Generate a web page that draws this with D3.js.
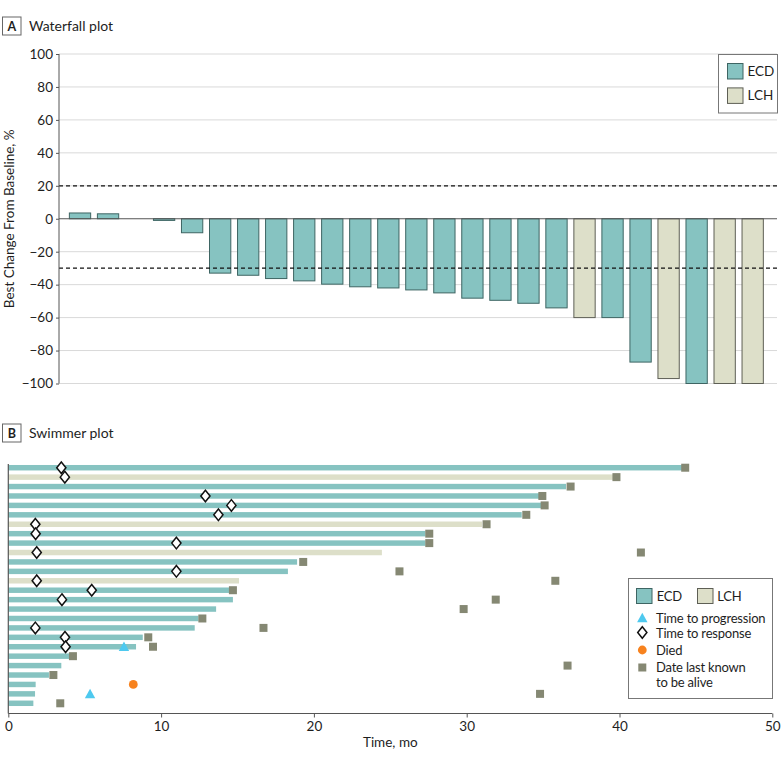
<!DOCTYPE html>
<html>
<head>
<meta charset="utf-8">
<script src="https://cdn.jsdelivr.net/npm/d3@7/dist/d3.min.js"></script>
<style>
  html, body { margin: 0; padding: 0; background: #fff; }
  svg { display: block; font-family: Lato, "Open Sans", sans-serif; }
</style>
</head>
<body>
<svg id="chart" width="783" height="758"></svg>
<script>
// ---------- Waterfall data ----------
const wfPatients = d3.range(1, 26).map(String);
const wfValues = [3.5, 3, null, -1, -8.5, -33, -34.3, -36.3, -37.7, -39.7, -41.3, -42, -43.2, -45, -48.2, -49.5, -51.3, -54.1, -60, -60, -87, -97, -100, -100, -100];
const wfGroups = ["ECD","ECD","ECD","ECD","ECD","ECD","ECD","ECD","ECD","ECD","ECD","ECD","ECD","ECD","ECD","ECD","ECD","ECD","LCH","ECD","ECD","LCH","ECD","LCH","LCH"];
const wfTicks = [-100, -80, -60, -40, -20, 0, 20, 40, 60, 80, 100];
const wfThresholds = [20, -30];

// ---------- Swimmer data ----------
const swRows = d3.range(1, 27).map(String);
const swGroups = ["ECD","LCH","ECD","ECD","ECD","ECD","LCH","ECD","ECD","LCH","ECD","ECD","LCH","ECD","ECD","ECD","ECD","ECD","ECD","ECD","ECD","ECD","ECD","ECD","ECD","ECD"];
const swDuration = [44.1, 39.6, 36.5, 34.75, 34.9, 33.6, 31.0, 27.3, 27.3, 24.45, 18.9, 18.3, 15.1, 14.6, 14.7, 13.6, 12.45, 12.2, 8.8, 8.36, 4.0, 3.47, 2.66, 1.79, 1.75, 1.64];
const swResponse = [3.47, 3.7, null, 12.9, 14.6, 13.75, 1.77, 1.79, 11.0, 1.86, null, 11.0, 1.86, 5.46, 3.51, null, null, 1.77, 3.71, 3.75, null, null, null, null, null, null];
const swProgression = [null,null,null,null,null,null,null,null,null,null,null,null,null,null,null,null,null,null,null, 7.57, null,null,null,null, 5.35, null];
const swDied = [null,null,null,null,null,null,null,null,null,null,null,null,null,null,null,null,null,null,null,null,null,null,null, 8.18, null, null];
const swLastAlive = [44.3, 39.8, 36.8, 34.95, 35.1, 33.9, 31.3, 27.55, 27.55, 41.4, 19.3, 25.6, 35.8, 14.7, 31.9, 29.8, 12.7, 16.7, 9.16, 9.47, 4.23, 36.6, 2.95, null, 34.8, 3.4];
const swTicks = [0, 10, 20, 30, 40, 50];

// ---------- Styles ----------
const fillC = { ECD: "#86c3c1", LCH: "#dddfc9" };
const strokeC = { ECD: "#3e6563", LCH: "#5e5f55" };
const squareC = "#858873";
const triC = "#4ec9ef";
const diedC = "#f7821e";
const axisC = "#555";
const gridC = "#d9d9d9";
const textC = "#1e1e1e";

const svg = d3.select("#chart");

// ---------- Panel labels ----------
function panelLabel(letter, title, yTop) {
  const g = svg.append("g");
  g.append("rect").attr("x", 2.5).attr("y", yTop + 0.5).attr("width", 18.5).attr("height", 18)
    .attr("fill", "#fff").attr("stroke", "#666").attr("stroke-width", 1);
  g.append("text").attr("x", 11.75).attr("y", yTop + 14).attr("text-anchor", "middle")
    .attr("font-size", 12.5).attr("font-weight", "bold").attr("fill", textC).text(letter);
  g.append("text").attr("x", 29).attr("y", yTop + 14).attr("font-size", 14).attr("fill", textC).text(title);
}
panelLabel("A", "Waterfall plot", 16.5);
panelLabel("B", "Swimmer plot", 423.5);

// ---------- Waterfall ----------
const wfX = d3.scaleBand().domain(wfPatients).range([66, 766.7]).paddingInner(0.24).paddingOuter(0.12);
const wfY = d3.scaleLinear().domain([-100, 100]).range([383.5, 54]);
const wfLeft = 59, wfRight = 777;

const wf = svg.append("g");
wf.selectAll("line.grid").data(wfTicks.filter(t => t !== 0)).join("line")
  .attr("x1", wfLeft).attr("x2", wfRight)
  .attr("y1", d => wfY(d)).attr("y2", d => wfY(d))
  .attr("stroke", gridC).attr("stroke-width", 1);

const wfData = wfPatients.map((p, i) => ({ p, v: wfValues[i], g: wfGroups[i] })).filter(d => d.v !== null);
wf.selectAll("rect.bar").data(wfData).join("rect")
  .attr("x", d => wfX(d.p))
  .attr("width", wfX.bandwidth())
  .attr("y", d => wfY(Math.max(0, d.v)))
  .attr("height", d => Math.abs(wfY(d.v) - wfY(0)))
  .attr("fill", d => fillC[d.g])
  .attr("stroke", d => strokeC[d.g]).attr("stroke-width", 1);

wf.append("line").attr("x1", wfLeft).attr("x2", wfRight)
  .attr("y1", wfY(0)).attr("y2", wfY(0)).attr("stroke", "#555").attr("stroke-width", 1);

wf.selectAll("line.thr").data(wfThresholds).join("line")
  .attr("x1", wfLeft).attr("x2", wfRight)
  .attr("y1", d => wfY(d)).attr("y2", d => wfY(d))
  .attr("stroke", "#111").attr("stroke-width", 1.2).attr("stroke-dasharray", "4,3");

const wfAxis = wf.append("g").attr("transform", `translate(${wfLeft},0)`)
  .call(d3.axisLeft(wfY).tickValues(wfTicks).tickSize(3).tickPadding(3).tickFormat(d => d < 0 ? "\u2212" + Math.abs(d) : d));
wfAxis.select(".domain").attr("stroke", axisC).attr("d", `M0,${wfY(100)}V${wfY(-100)}`);
wfAxis.selectAll(".tick line").attr("stroke", axisC);
wfAxis.selectAll(".tick text").attr("font-size", 13.5).attr("fill", textC).attr("font-family", "Lato, sans-serif");

svg.append("text").attr("transform", `translate(14,${(wfY(100) + wfY(-100)) / 2}) rotate(-90)`)
  .attr("text-anchor", "middle").attr("font-size", 13.5).attr("fill", textC)
  .text("Best Change From Baseline, %");

const lgA = svg.append("g");
lgA.append("rect").attr("x", 718.5).attr("y", 54.5).attr("width", 59).attr("height", 58.5)
  .attr("fill", "#fff").attr("stroke", "#777");
["ECD", "LCH"].forEach((k, i) => {
  lgA.append("rect").attr("x", 727.5).attr("y", 63.5 + i * 24.4).attr("width", 15.5).attr("height", 15.5)
    .attr("fill", fillC[k]).attr("stroke", strokeC[k]);
  lgA.append("text").attr("x", 747.5).attr("y", 76 + i * 24.4).attr("font-size", 13.5).attr("fill", textC).text(k);
});

// ---------- Swimmer ----------
const swX = d3.scaleLinear().domain([0, 50]).range([8.3, 772.3]);
const swY = d3.scaleBand().domain(swRows).range([463, 708]).paddingInner(0.42).paddingOuter(0.21);
const swAxisY = 713.5;
const cy = r => swY(r) + swY.bandwidth() / 2;

const sw = svg.append("g");
const swData = swRows.map((r, i) => ({ r, g: swGroups[i], dur: swDuration[i], resp: swResponse[i], prog: swProgression[i], died: swDied[i], last: swLastAlive[i] }));

sw.selectAll("rect.sbar").data(swData).join("rect")
  .attr("x", swX(0)).attr("y", d => swY(d.r))
  .attr("width", d => swX(d.dur) - swX(0)).attr("height", swY.bandwidth())
  .attr("fill", d => fillC[d.g]);

const sq = 8;
sw.selectAll("rect.sq").data(swData.filter(d => d.last !== null)).join("rect")
  .attr("x", d => swX(d.last) - sq / 2).attr("y", d => cy(d.r) - sq / 2)
  .attr("width", sq).attr("height", sq).attr("fill", squareC);

const diamond = "M0,-5.8L4.6,0L0,5.8L-4.6,0Z";
sw.selectAll("path.dia").data(swData.filter(d => d.resp !== null)).join("path")
  .attr("d", diamond)
  .attr("transform", d => `translate(${swX(d.resp)},${cy(d.r)})`)
  .attr("fill", "#fff").attr("stroke", "#111").attr("stroke-width", 1.5);

const tri = "M0,-5.2L5.2,4.3L-5.2,4.3Z";
sw.selectAll("path.tri").data(swData.filter(d => d.prog !== null)).join("path")
  .attr("d", tri)
  .attr("transform", d => `translate(${swX(d.prog)},${cy(d.r)})`)
  .attr("fill", triC);

sw.selectAll("circle.died").data(swData.filter(d => d.died !== null)).join("circle")
  .attr("cx", d => swX(d.died)).attr("cy", d => cy(d.r)).attr("r", 4.4)
  .attr("fill", diedC);

sw.append("line").attr("x1", swX(0)).attr("x2", swX(0)).attr("y1", 464).attr("y2", swAxisY)
  .attr("stroke", axisC).attr("stroke-width", 1.2);
const swAxis = sw.append("g").attr("transform", `translate(0,${swAxisY})`)
  .call(d3.axisBottom(swX).tickValues(swTicks).tickSize(4).tickPadding(4));
swAxis.select(".domain").attr("stroke", axisC).attr("d", `M${swX(0)},0H${swX(50)}`);
swAxis.selectAll(".tick line").attr("stroke", axisC);
swAxis.selectAll(".tick text").attr("font-size", 13.5).attr("fill", textC).attr("font-family", "Lato, sans-serif");

svg.append("text").attr("x", (swX(0) + swX(50)) / 2).attr("y", 746.5).attr("text-anchor", "middle")
  .attr("font-size", 13.5).attr("fill", textC).text("Time, mo");

const lgB = svg.append("g").attr("font-size", 13).attr("letter-spacing", -0.2);
lgB.append("rect").attr("x", 628.5).attr("y", 578.5).attr("width", 144).attr("height", 120)
  .attr("fill", "#fff").attr("stroke", "#777");
[["ECD", 636.5, 656.7], ["LCH", 697.5, 717.3]].forEach(([k, sx, tx]) => {
  lgB.append("rect").attr("x", sx).attr("y", 588.5).attr("width", 15.5).attr("height", 15)
    .attr("fill", fillC[k]).attr("stroke", strokeC[k]);
  lgB.append("text").attr("x", tx).attr("y", 601).attr("fill", textC).text(k);
});
const lx = 642.3, tx = 656;
lgB.append("path").attr("d", tri).attr("transform", `translate(${lx},618)`).attr("fill", triC);
lgB.append("text").attr("x", tx).attr("y", 622.5).attr("fill", textC).text("Time to progression");
lgB.append("path").attr("d", diamond).attr("transform", `translate(${lx},632.5)`).attr("fill", "#fff").attr("stroke", "#111").attr("stroke-width", 1.5);
lgB.append("text").attr("x", tx).attr("y", 637.5).attr("fill", textC).text("Time to response");
lgB.append("circle").attr("cx", lx).attr("cy", 650).attr("r", 4.4).attr("fill", diedC);
lgB.append("text").attr("x", tx).attr("y", 655).attr("fill", textC).text("Died");
lgB.append("rect").attr("x", lx - 4).attr("y", 663.5).attr("width", 8).attr("height", 8).attr("fill", squareC);
lgB.append("text").attr("x", tx).attr("y", 672).attr("fill", textC).text("Date last known");
lgB.append("text").attr("x", tx).attr("y", 686.5).attr("fill", textC).text("to be alive");
</script>
</body>
</html>
